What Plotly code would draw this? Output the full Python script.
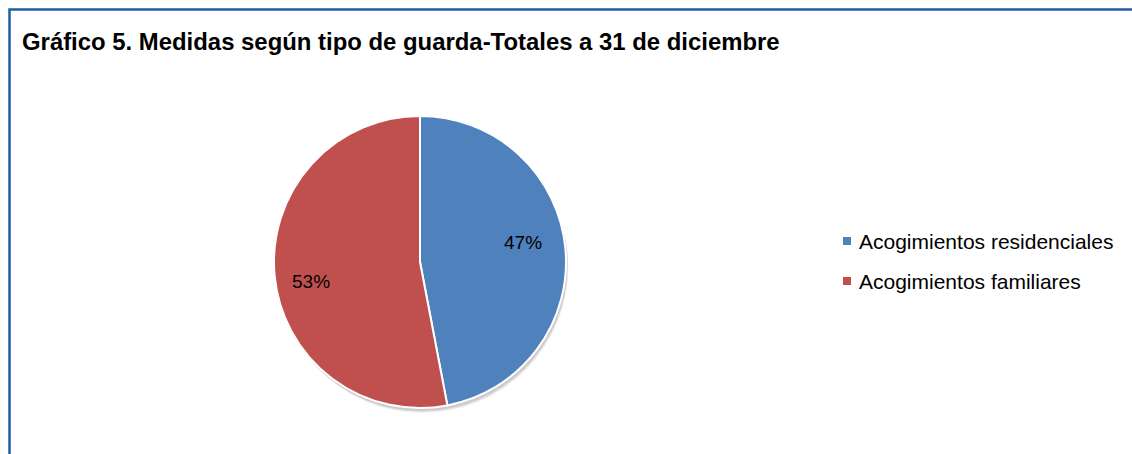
import math
import plotly.graph_objects as go

labels = ["Acogimientos residenciales", "Acogimientos familiares"]
values = [47, 53]
colors = ["#4F81BD", "#C0504D"]
title_text = "Gráfico 5. Medidas según tipo de guarda-Totales a 31 de diciembre"

W, H = 1132, 454
cx, cy, r = 420, 262, 146
FONT = "Arial, Liberation Sans, sans-serif"


def px(x):
    return x / W


def py(y):
    return 1 - y / H


fig = go.Figure()
fig.add_trace(go.Pie(
    labels=labels, values=values, sort=False, direction="clockwise", rotation=0,
    marker=dict(colors=colors, line=dict(color="white", width=2)),
    textinfo="none", hoverinfo="label+percent", showlegend=False,
    domain=dict(x=[px(cx - r), px(cx + r)], y=[py(cy + r), py(cy - r)]),
))

# soft shadow
for d, op in [(5, 0.05), (4, 0.07), (3, 0.09)]:
    fig.add_shape(type="circle", xref="paper", yref="paper",
                  x0=px(cx - r + d * 0.5), x1=px(cx + r + d * 0.5),
                  y0=py(cy + r + d), y1=py(cy - r + d),
                  fillcolor="black", opacity=op, line=dict(width=0), layer="below")

# percentage labels placed from the data
total = sum(values)
cum = 0
for v in values:
    mid = (cum + v / 2) / total * 360 - 5
    cum += v
    a = math.radians(mid)
    rho = 0.74 * r
    fig.add_annotation(text=f"{round(v / total * 100)}%", xref="paper", yref="paper",
                       x=px(cx - 3 + rho * math.sin(a)), y=py(cy - rho * math.cos(a)),
                       xanchor="center", yanchor="middle", showarrow=False,
                       font=dict(family=FONT, size=19, color="black"))

# frame (right and bottom sides fall outside the picture)
fig.add_shape(type="rect", xref="paper", yref="paper",
              x0=px(9.5), x1=1.05, y0=-0.05, y1=py(9.5),
              line=dict(color="#1F5F9F", width=2.5), layer="above")

# title
fig.add_annotation(text="<b>" + title_text + "</b>", xref="paper", yref="paper",
                   x=px(20), y=py(41), xanchor="left", yanchor="middle",
                   showarrow=False, font=dict(family=FONT, size=23.9, color="black"))

# legend
for i, (lab, col) in enumerate(zip(labels, colors)):
    yc = 241 + 40 * i
    fig.add_shape(type="rect", xref="paper", yref="paper",
                  x0=px(843), x1=px(851), y0=py(yc + 4), y1=py(yc - 4),
                  fillcolor=col, line=dict(width=0))
    fig.add_annotation(text=lab, xref="paper", yref="paper",
                       x=px(857), y=py(yc), xanchor="left", yanchor="middle",
                       showarrow=False, font=dict(family=FONT, size=21, color="black"))

fig.update_layout(
    width=W, height=H, margin=dict(l=0, r=0, t=0, b=0),
    paper_bgcolor="white", plot_bgcolor="white", showlegend=False,
)

fig.write_html("out.html", config={"displayModeBar": False},
               post_script="document.body.style.margin='0';document.body.style.overflow='hidden';")
